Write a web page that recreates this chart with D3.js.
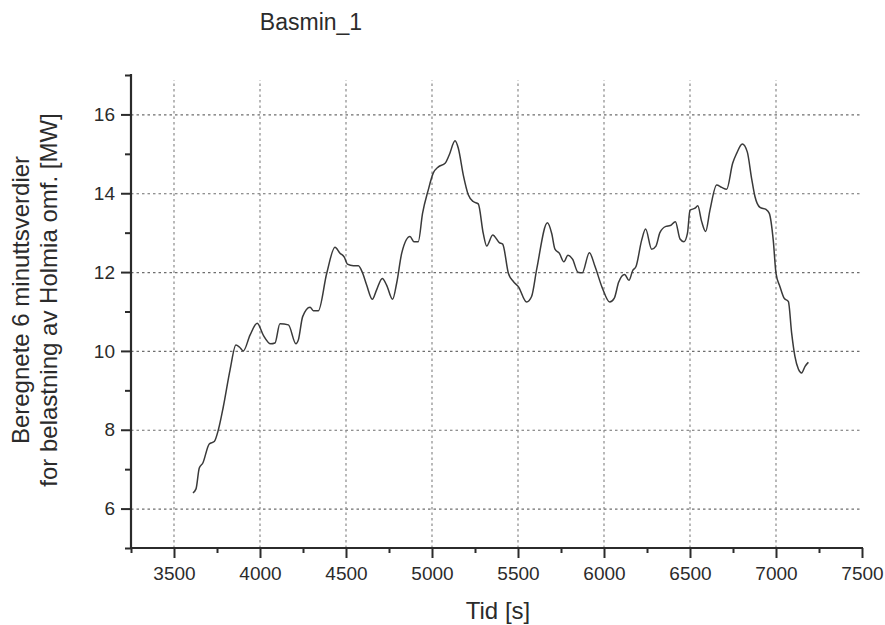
<!DOCTYPE html>
<html>
<head>
<meta charset="utf-8">
<script src="https://cdn.jsdelivr.net/npm/d3@7"></script>
<style>
  html, body { margin: 0; padding: 0; background: #fff; }
  svg { display: block; font-family: "Liberation Sans", Arial, sans-serif; }
</style>
</head>
<body>
<svg id="chart" width="885" height="625"></svg>
<script>
// ---- data ----
const title = "Basmin_1";
const xLabel = "Tid [s]";
const yLabelLines = ["Beregnete 6 minuttsverdier", "for belastning av Holmia omf. [MW]"];

const time = [3610,3628,3647,3667,3705,3734,3758,3787,3826,3860,3880,3903,3942,3984,4019,4062,4087,4116,4165,4209,4223,4248,4291,4310,4339,4388,4436,4465,4490,4508,4543,4572,4597,4620,4653,4678,4711,4736,4771,4795,4824,4872,4895,4920,4945,4978,5007,5037,5076,5100,5134,5153,5182,5211,5240,5269,5298,5318,5353,5391,5411,5444,5473,5502,5550,5579,5609,5671,5696,5715,5740,5767,5790,5818,5848,5873,5915,5948,5990,6033,6060,6085,6120,6145,6167,6186,6219,6242,6277,6302,6325,6360,6385,6415,6442,6465,6485,6500,6529,6545,6568,6591,6616,6655,6684,6713,6748,6771,6804,6833,6858,6878,6907,6942,6961,6984,7000,7023,7047,7072,7091,7110,7130,7149,7169,7188];
const load = [6.40,6.50,7.03,7.15,7.64,7.70,8.00,8.59,9.52,10.15,10.10,10.00,10.40,10.70,10.40,10.18,10.20,10.69,10.66,10.18,10.28,10.87,11.11,11.02,11.02,11.97,12.63,12.48,12.38,12.20,12.16,12.16,11.97,11.67,11.31,11.55,11.84,11.67,11.31,11.73,12.48,12.90,12.77,12.77,13.49,14.08,14.51,14.67,14.76,14.97,15.33,15.14,14.46,13.96,13.79,13.73,12.98,12.66,12.94,12.75,12.71,11.97,11.76,11.63,11.24,11.38,12.08,13.25,12.98,12.58,12.48,12.26,12.43,12.32,12.00,11.98,12.49,12.14,11.60,11.24,11.34,11.74,11.94,11.79,12.04,12.14,12.81,13.09,12.58,12.66,13.00,13.16,13.18,13.28,12.84,12.77,12.98,13.57,13.62,13.68,13.28,13.03,13.57,14.21,14.15,14.10,14.76,15.01,15.25,15.05,14.38,13.91,13.64,13.59,13.49,12.81,11.97,11.63,11.34,11.25,10.45,9.86,9.54,9.44,9.61,9.71];

const xDomain = [3250, 7500];
const yDomain = [5, 17];
const xMajorTicks = [3500,4000,4500,5000,5500,6000,6500,7000,7500];
const xMinorTicks = [3250,3750,4250,4750,5250,5750,6250,6750,7250];
const yMajorTicks = [6,8,10,12,14,16];
const yMinorTicks = [5,7,9,11,13,15,17];
const xGrid = [3500,4000,4500,5000,5500,6000,6500,7000];

// ---- layout ----
const svg = d3.select("#chart");
const mLeft = 131, mRight = 862, mTop = 75, mBottom = 548;
const ink = "#2b2b2b";

const x = d3.scaleLinear().domain(xDomain).range([mLeft, mRight]);
const y = d3.scaleLinear().domain(yDomain).range([mBottom, mTop]);

// grid
const grid = svg.append("g").attr("stroke", "#6e6e6e").attr("stroke-width", 1.2)
  .attr("stroke-dasharray", "2.5,3").attr("fill", "none");
grid.selectAll("line.h").data(yMajorTicks).join("line").attr("class", "h")
  .attr("x1", mLeft).attr("x2", mRight).attr("y1", d => y(d) + 0.5).attr("y2", d => y(d) + 0.5);
grid.selectAll("line.v").data(xGrid).join("line").attr("class", "v")
  .attr("stroke", "#8a8a8a")
  .attr("x1", d => x(d)).attr("x2", d => x(d)).attr("y1", mBottom).attr("y2", mTop + 5);

// data line
const line = d3.line().x((d, i) => x(time[i])).y(d => y(d)).curve(d3.curveMonotoneX);
svg.append("path").datum(load).attr("d", line)
  .attr("fill", "none").attr("stroke", "#3a3a3a").attr("stroke-width", 1.5)
  .attr("stroke-linejoin", "round");

// x axis
const xAxis = d3.axisBottom(x).tickValues(xMajorTicks).tickSize(10).tickPadding(9)
  .tickFormat(d3.format("d"));
const gx = svg.append("g").attr("transform", `translate(0,${mBottom})`).call(xAxis);
gx.select(".domain").remove();
gx.selectAll("line").attr("stroke", ink).attr("stroke-width", 2);
gx.selectAll("text").attr("fill", ink).attr("font-size", 19);
const xMinor = d3.axisBottom(x).tickValues(xMinorTicks).tickSize(5).tickFormat("");
const gxm = svg.append("g").attr("transform", `translate(0,${mBottom})`).call(xMinor);
gxm.select(".domain").remove();
gxm.selectAll("line").attr("stroke", ink).attr("stroke-width", 2);
svg.append("line").attr("x1", mLeft - 1).attr("x2", mRight + 1).attr("y1", mBottom).attr("y2", mBottom)
  .attr("stroke", ink).attr("stroke-width", 2.2);

// y axis
const yAxis = d3.axisLeft(y).tickValues(yMajorTicks).tickSize(10).tickPadding(6)
  .tickFormat(d3.format("d"));
const gy = svg.append("g").attr("transform", `translate(${mLeft},0)`).call(yAxis);
gy.select(".domain").remove();
gy.selectAll("line").attr("stroke", ink).attr("stroke-width", 2);
gy.selectAll("text").attr("fill", ink).attr("font-size", 19);
const yMinor = d3.axisLeft(y).tickValues(yMinorTicks).tickSize(6).tickFormat("");
const gym = svg.append("g").attr("transform", `translate(${mLeft},0)`).call(yMinor);
gym.select(".domain").remove();
gym.selectAll("line").attr("stroke", ink).attr("stroke-width", 2);
svg.append("line").attr("x1", mLeft).attr("x2", mLeft).attr("y1", mTop - 1).attr("y2", mBottom + 1)
  .attr("stroke", ink).attr("stroke-width", 2.2);

// title
svg.append("text").attr("x", 311).attr("y", 30).attr("text-anchor", "middle")
  .attr("font-size", 23).attr("fill", ink).text(title);

// x label
svg.append("text").attr("x", 498).attr("y", 619).attr("text-anchor", "middle")
  .attr("font-size", 24).attr("fill", ink).text(xLabel);

// y label (two lines)
const yl = svg.append("text").attr("transform", "translate(29,300) rotate(-90)")
  .attr("text-anchor", "middle").attr("font-size", 24).attr("fill", ink);
yLabelLines.forEach((t, i) => {
  yl.append("tspan").attr("x", 0).attr("dy", i === 0 ? 0 : 28).text(t);
});
</script>
</body>
</html>
